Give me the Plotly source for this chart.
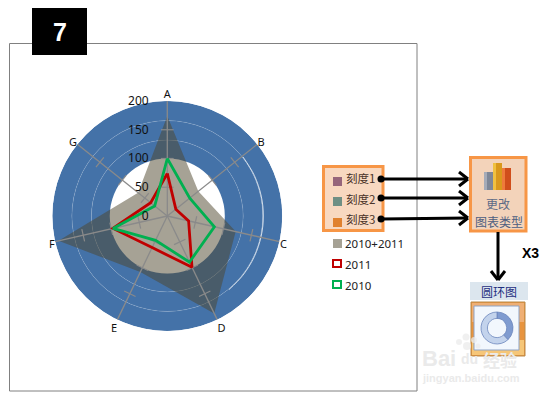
import plotly.graph_objects as go

W, H = 548, 396
categories = ["A", "B", "C", "D", "E", "F", "G"]
series_2010 = [100, 50, 84, 89, 47, 97, 28]
series_2011 = [74, 19, 38, 99, 61, 97, 37]
series_sum = [174, 69, 122, 188, 108, 194, 65]
radial_ticks = [0, 50, 100, 150, 200]
spoke_ticks = [50, 100, 150]
ring_names = ["刻度1", "刻度2", "刻度3"]
ring_base = [100, 132, 166]
ring_size = [32, 34, 34]
ring_swatch = ["#96657B", "#6F8F84", "#E0812F"]
donut_values = [38, 62]
highlight_theta = [52, 65, 78, 90, 102, 115, 128, 140]
highlight_r = [167, 167, 167, 167, 167, 167, 167, 167]

BLUE = "#4472A8"
GRAY = "#8A8A8A"
RED = "#C00000"
GREEN = "#00B050"
FONT = "Noto Sans"
CJK = "Noto Sans CJK SC"

angles = [i * 360 / len(categories) for i in range(len(categories))]


def px(x):
    return x / W


def py(y):
    return 1 - y / H


def closed(v):
    return list(v) + [v[0]]


fig = go.Figure()

for name, base, size in zip(ring_names, ring_base, ring_size):
    fig.add_trace(go.Barpolar(
        r=[size], base=[base], theta=[0], width=[360], name=name,
        marker=dict(color=BLUE, line=dict(color="rgba(255,255,255,0.14)", width=0.7)),
    ))

fig.add_trace(go.Scatterpolar(
    r=highlight_r, theta=highlight_theta, mode="lines",
    line=dict(color="rgba(255,255,255,0.75)", width=1, shape="spline"),
))

fig.add_trace(go.Scatterpolar(
    r=closed(series_sum), theta=closed(angles), mode="lines", name="2010+2011",
    fill="toself", fillcolor="rgba(77,70,44,0.5)", line=dict(width=0),
))

for a in angles:
    fig.add_trace(go.Scatterpolar(
        r=[0, 200], theta=[a, a], mode="lines",
        line=dict(color=GRAY, width=1.3),
    ))
    fig.add_trace(go.Scatterpolar(
        r=spoke_ticks, theta=[a] * len(spoke_ticks), mode="markers",
        marker=dict(symbol="line-ew", size=9, angle=a,
                    line=dict(color=GRAY, width=1.2)),
    ))

fig.add_trace(go.Scatterpolar(
    r=closed(series_2011), theta=closed(angles), mode="lines", name="2011",
    line=dict(color=RED, width=2.8),
))
fig.add_trace(go.Scatterpolar(
    r=closed(series_2010), theta=closed(angles), mode="lines", name="2010",
    line=dict(color=GREEN, width=2.8),
))

fig.add_trace(go.Pie(
    values=donut_values, hole=0.6, sort=False, direction="clockwise",
    marker=dict(colors=["#7F9BD0", "#C3D3EC"], line=dict(color="#6C86BC", width=0.8)),
    textinfo="none", showlegend=False,
    domain=dict(x=[px(481), px(513)], y=[py(344), py(312)]),
))

shapes = []


def rect(x0, y0, x1, y1, fill=None, line=None, lw=1):
    shapes.append(dict(
        type="rect", xref="paper", yref="paper", layer="below",
        x0=px(x0), x1=px(x1), y0=py(y0), y1=py(y1),
        fillcolor=fill or "rgba(0,0,0,0)",
        line=dict(color=line or "rgba(0,0,0,0)", width=lw if line else 0),
    ))


def seg(x0, y0, x1, y1, color="black", lw=3, layer="above"):
    shapes.append(dict(
        type="line", xref="paper", yref="paper", layer=layer,
        x0=px(x0), x1=px(x1), y0=py(y0), y1=py(y1),
        line=dict(color=color, width=lw),
    ))


def dot(x, y, r, fill):
    shapes.append(dict(
        type="circle", xref="paper", yref="paper", layer="above",
        x0=px(x - r), x1=px(x + r), y0=py(y + r), y1=py(y - r),
        fillcolor=fill, line=dict(width=0),
    ))


rect(9.5, 43.5, 417, 391, fill="white", line="#808080", lw=1)
rect(32, 8, 87, 55, fill="black")

rect(323.5, 166.5, 383, 230.5, fill="#F8D8C0", line="#F79646", lw=3)
rect(470.5, 157.5, 526, 231, fill="#F3D3BA", line="#F79646", lw=3)
rect(470, 282, 528, 300, fill="#DCE6EE")

for y0, c in zip([177, 197, 218], ring_swatch):
    rect(333, y0, 342, y0 + 9, fill=c)
rect(333, 239, 342, 248, fill="#A6A295")
rect(333, 260, 341, 267, fill="white", line=RED, lw=2)
rect(333, 281, 341, 288, fill="white", line=GREEN, lw=2)

# chart icon
rect(484, 172, 493, 190, fill="#7F8797")
rect(484, 172, 487, 190, fill="#A5ABB8")
rect(493, 163, 502, 190, fill="#D9981C")
rect(493, 163, 496, 190, fill="#F0C040")
rect(502, 168, 511, 190, fill="#D04E1C")
rect(502, 168, 505, 190, fill="#EE7A3C")

# donut icon
rect(471, 302, 525, 356, fill="#E8943E", line="#B98A4A", lw=1)
rect(472, 303, 524, 322, fill="#EFAF74")
rect(472, 340, 524, 355, fill="#F6C678")
rect(474, 306, 519, 350, fill="#F2F7FD", line="#8FA3C4", lw=1)

# arrows
for y0, y1 in [(179, 179), (198, 198), (219, 218)]:
    dot(381, y0, 3.5, "black")
    seg(381, y0, 468, y1)
    seg(468, y1, 459, y1 - 7)
    seg(468, y1, 459, y1 + 7)
seg(498, 232, 498, 279)
seg(498, 280, 491, 271)
seg(498, 280, 505, 271)

# watermark paw
for x, y, r in [(459, 342, 3), (466, 337, 3.5), (474, 340, 3), (478, 346, 2.5), (467, 346, 4)]:
    dot(x, y, r, "rgba(235,235,235,0.75)")

annotations = []


def text(x, y, s, size=12, color="#333333", family=FONT, anchor="left", bold=False):
    annotations.append(dict(
        xref="paper", yref="paper", x=px(x), y=py(y), text=f"<b>{s}</b>" if bold else s,
        showarrow=False, xanchor=anchor, yanchor="middle",
        font=dict(size=size, color=color, family=family),
    ))


text(59.5, 32, "7", size=25, color="white", family="Liberation Sans", anchor="center", bold=True)
for y, s in zip([178, 199, 219], ring_names):
    text(344, y, s, size=11.5, color="#4A3328", family=CJK)
text(343, 243, "2010+2011", size=11.5, color="#222222")
text(343, 264, "2011", size=11.5, color="#222222")
text(343, 285, "2010", size=11.5, color="#222222")
text(498, 203, "更改", size=12, color="#5E6A86", family=CJK, anchor="center")
text(498.5, 221, "图表类型", size=12, color="#4E5E80", family=CJK, anchor="center")
text(530, 253, "X3", size=14, color="black", family="Liberation Sans", anchor="center", bold=True)
text(499, 291, "圆环图", size=12, color="#1F2F7F", family=CJK, anchor="center")
text(420, 358, "Bai", size=22, color="#EAEAEA", family="Liberation Sans", bold=True)
text(459, 359, "du", size=14, color="#EAEAEA", family="Liberation Sans", bold=True)
text(481, 359, "经验", size=17, color="#EAEAEA", family=CJK, bold=True)
text(420, 378, "jingyan.baidu.com", size=11, color="#EAEAEA", family="Liberation Sans", bold=True)

fig.update_layout(
    width=W, height=H, margin=dict(l=0, r=0, t=0, b=0),
    paper_bgcolor="white", showlegend=False,
    font=dict(family=FONT, color="#111111"),
    shapes=shapes, annotations=annotations,
    polar=dict(
        domain=dict(x=[px(52), px(282.6)], y=[py(331), py(101)]),
        bgcolor="rgba(0,0,0,0)", barmode="overlay",
        radialaxis=dict(
            range=[0, 200], angle=90, tickangle=90, tickvals=radial_ticks,
            showgrid=False, showline=False, ticks="outside", ticklen=14,
            tickcolor="rgba(0,0,0,0)", side="counterclockwise",
            tickfont=dict(size=12, family=FONT, color="#111111"),
        ),
        angularaxis=dict(
            direction="clockwise", rotation=90, tickvals=angles, ticktext=categories,
            showgrid=False, showline=False, ticks="",
            tickfont=dict(size=11, family=FONT, color="#111111"),
        ),
    ),
)

fig.write_html(
    "out.html",
    config={"displayModeBar": False},
    post_script="document.body.style.margin='0';document.documentElement.style.overflow='hidden';",
)
